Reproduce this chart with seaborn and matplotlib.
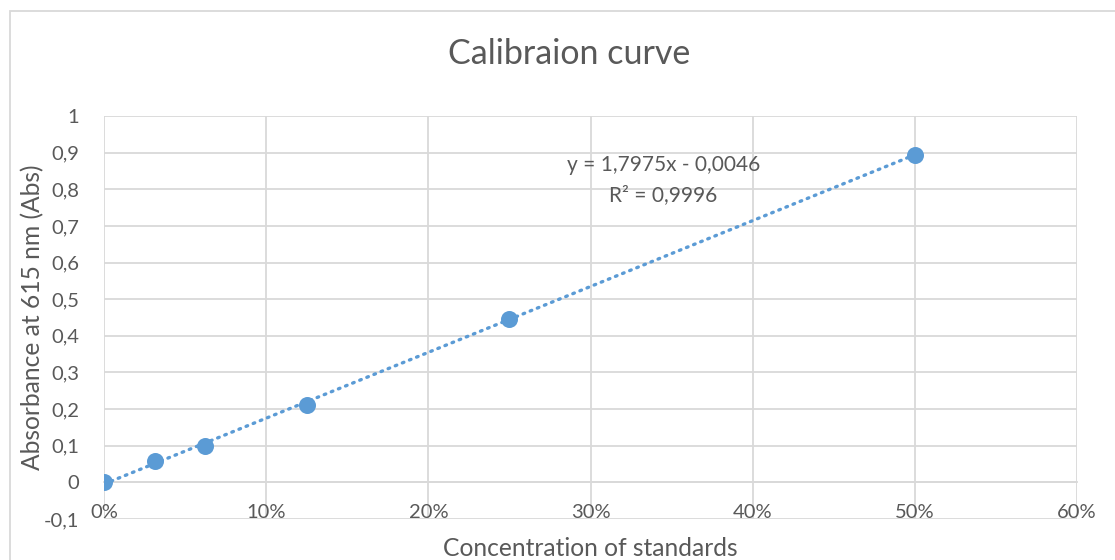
import numpy as np
import pandas as pd
import matplotlib
matplotlib.use("Agg")
import matplotlib.pyplot as plt
import seaborn as sns
from matplotlib.ticker import FixedLocator, FuncFormatter
from matplotlib.patches import Rectangle

# Data
concentration = [0.0, 0.03125, 0.0625, 0.125, 0.25, 0.5]
absorbance = [0.0, 0.059, 0.100, 0.211, 0.447, 0.893]
slope = 1.7975
intercept = -0.0046
r_squared = 0.9996
x_ticks = [0.0, 0.1, 0.2, 0.3, 0.4, 0.5, 0.6]
y_ticks = [-0.1, 0.0, 0.1, 0.2, 0.3, 0.4, 0.5, 0.6, 0.7, 0.8, 0.9, 1.0]

title = "Calibraion curve"
x_label = "Concentration of standards"
y_label = "Absorbance at 615 nm (Abs)"

sns.set_theme(style="white")
plt.rcParams['font.family'] = ['Lato', 'DejaVu Sans']

TXT = "#595959"
BLUE = "#5B9BD5"
GRID = "#D9D9D9"

fig = plt.figure(figsize=(11.15, 5.6), dpi=100)
ax = fig.add_axes([104/1115, 1 - 519/560, (1077-104)/1115, (519-116)/560])

df = pd.DataFrame({"conc": concentration, "abs": absorbance})
trend_x = np.array([concentration[0], concentration[-1]])
trend = pd.DataFrame({"conc": trend_x, "abs": slope * trend_x + intercept})

sns.lineplot(data=trend, x="conc", y="abs", ax=ax, color=BLUE, linewidth=2.4,
             linestyle=(0, (0.5, 1.8)), dash_capstyle="round", zorder=3)
sns.scatterplot(data=df, x="conc", y="abs", ax=ax, color=BLUE, s=150,
                edgecolor=BLUE, linewidth=0, zorder=4)

ax.set_xlim(0, 0.6)
ax.set_ylim(-0.1, 1.0)
ax.xaxis.set_major_locator(FixedLocator(x_ticks))
ax.yaxis.set_major_locator(FixedLocator(y_ticks))
ax.xaxis.set_major_formatter(FuncFormatter(lambda v, p: f"{v*100:.0f}%"))

def yfmt(v, p):
    s = f"{v:.1f}".replace(".", ",")
    if s.endswith(",0"):
        s = s[:-2]
    if s == "-0":
        s = "0"
    return s
ax.yaxis.set_major_formatter(FuncFormatter(yfmt))

ax.grid(True, color=GRID, linewidth=1.3)
ax.set_axisbelow(True)
for side in ["top", "right", "left"]:
    ax.spines[side].set_visible(False)
ax.spines["bottom"].set_position(("data", 0))
ax.spines["bottom"].set_color(GRID)
ax.spines["bottom"].set_linewidth(1.3)
ax.tick_params(axis="x", length=0, pad=15.5, labelsize=14.5, labelcolor=TXT)
ax.tick_params(axis="y", length=0, pad=18, labelsize=14.5, labelcolor=TXT)

ax.set_xlabel("")
ax.set_ylabel("")
fig.text(590/1115, 1 - 549/560, x_label, ha="center", va="center", fontsize=17.7, color=TXT)
fig.text(33/1115, 1 - 317/560, y_label, ha="center", va="center", rotation=90, fontsize=17.7, color=TXT)
fig.text(569/1115, 1 - 54/560, title, ha="center", va="center", fontsize=24.5, color=TXT)

eq = f"y = {slope:.4f}x - {abs(intercept):.4f}".replace(".", ",")
r2 = f"R² = {r_squared:.4f}".replace(".", ",")
ax.text(0.345, 0.866, eq, ha="center", va="center", fontsize=15, color=TXT)
ax.text(0.345, 0.784, r2, ha="center", va="center", fontsize=15, color=TXT)

fig.patches.append(Rectangle((10/1115, -0.1), 1.2, 1 - 10.5/560 + 0.1,
                             transform=fig.transFigure, fill=False,
                             edgecolor=GRID, linewidth=1.3))

fig.savefig("out.png", dpi=100, facecolor="white")
